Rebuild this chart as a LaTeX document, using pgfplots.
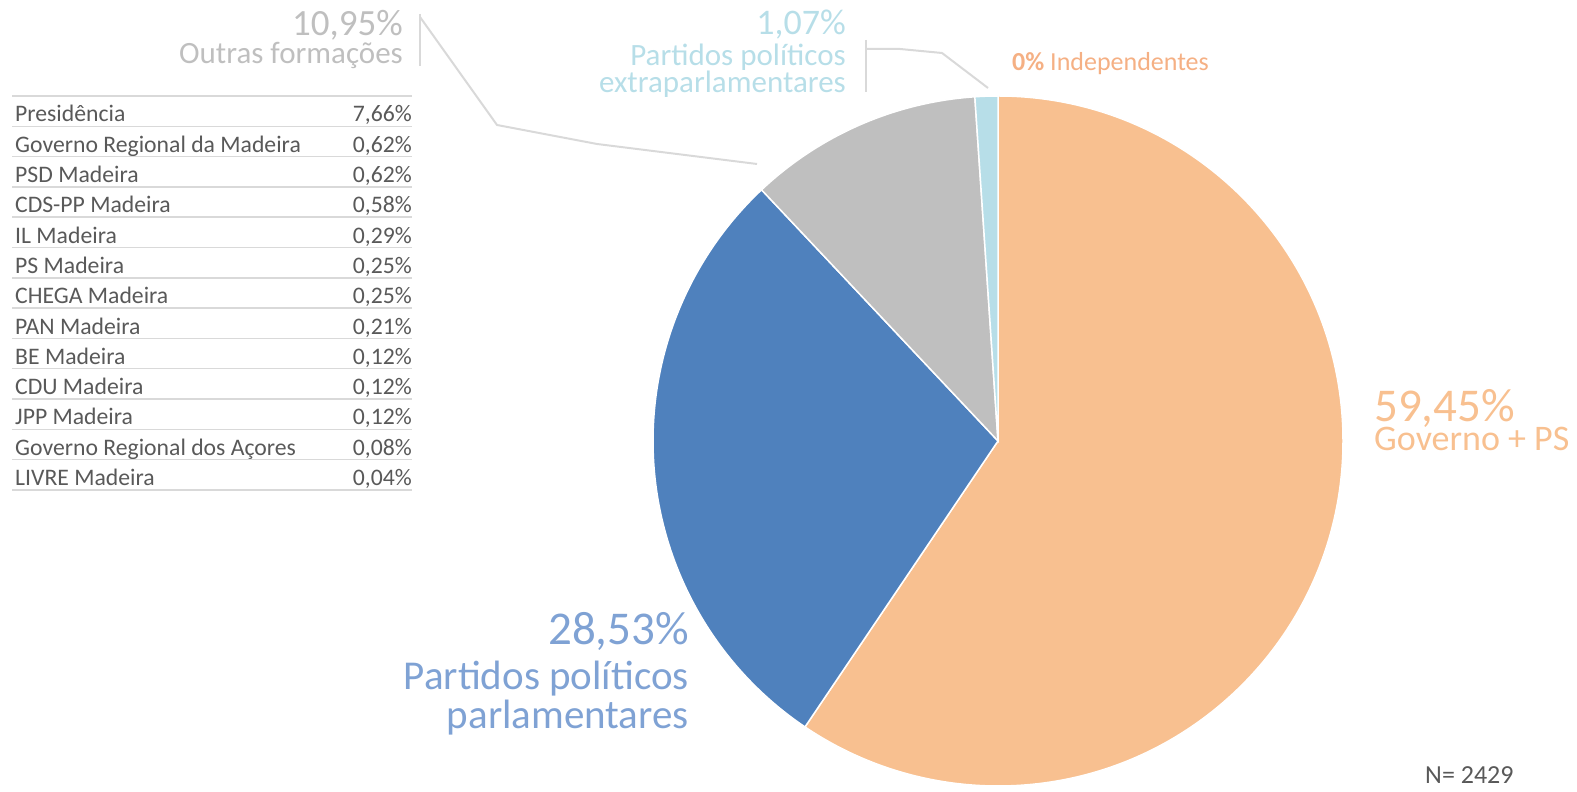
\documentclass[border=0pt]{standalone}
\usepackage{pgfplots}
\usepackage{pgfplotstable}
\pgfplotsset{compat=1.18}
\usepackage{fontspec}
\setmainfont{Carlito}
\definecolor{cOrange}{HTML}{F8C090}
\definecolor{cBlue}{HTML}{4F81BD}
\definecolor{cGray}{HTML}{BFBFBF}
\definecolor{cLBlue}{HTML}{B7DEE8}
\definecolor{tBlue}{HTML}{7FA2D4}
\definecolor{tOrange}{HTML}{F5B084}
\definecolor{tGray}{HTML}{595959}
\definecolor{lGray}{HTML}{D9D9D9}
\newcommand\fs[1]{\fontsize{#1bp}{#1bp}\selectfont}

\pgfplotstableread{
label value
Governo 59.45
Parlamentares 28.53
Outras 10.95
Extra 1.07
Indep 0
}\pietable

\pgfplotstableread[col sep=semicolon]{
name;share
Presidência;7,66\%
Governo Regional da Madeira;0,62\%
PSD Madeira;0,62\%
CDS-PP Madeira;0,58\%
IL Madeira;0,29\%
PS Madeira;0,25\%
CHEGA Madeira;0,25\%
PAN Madeira;0,21\%
BE Madeira;0,12\%
CDU Madeira;0,12\%
JPP Madeira;0,12\%
Governo Regional dos Açores;0,08\%
LIVRE Madeira;0,04\%
}\othertable

\pgfplotstablegetelem{0}{value}\of\pietable\let\vA\pgfplotsretval
\pgfplotstablegetelem{1}{value}\of\pietable\let\vB\pgfplotsretval
\pgfplotstablegetelem{2}{value}\of\pietable\let\vC\pgfplotsretval
\pgfplotstablegetelem{3}{value}\of\pietable\let\vD\pgfplotsretval
\pgfmathsetmacro\aA{90}
\pgfmathsetmacro\aB{\aA-3.6*\vA}
\pgfmathsetmacro\aC{\aB-3.6*\vB}
\pgfmathsetmacro\aD{\aC-3.6*\vC}
\pgfmathsetmacro\aE{\aD-3.6*\vD}

\begin{document}
\begin{tikzpicture}
\begin{axis}[width=1577bp,height=792bp,scale only axis,
  xmin=0,xmax=1577,ymin=0,ymax=792,hide axis,clip=false]
\addplot[draw=none] coordinates {(0,0) (1577,792)};
\coordinate (BL) at (axis cs:0,0);
\coordinate (TR) at (axis cs:1577,792);
% pie slices
\filldraw[fill=cOrange,draw=white,line width=1.5bp] (axis cs:998,351) -- ++(\aA:345bp) arc[start angle=\aA,end angle=\aB,radius=345bp] -- cycle;
\filldraw[fill=cBlue,draw=white,line width=1.5bp] (axis cs:998,351) -- ++(\aB:345bp) arc[start angle=\aB,end angle=\aC,radius=345bp] -- cycle;
\filldraw[fill=cGray,draw=white,line width=1.5bp] (axis cs:998,351) -- ++(\aC:345bp) arc[start angle=\aC,end angle=\aD,radius=345bp] -- cycle;
\filldraw[fill=cLBlue,draw=white,line width=1.5bp] (axis cs:998,351) -- ++(\aD:345bp) arc[start angle=\aD,end angle=\aE,radius=345bp] -- cycle;
% leader lines
\draw[lGray,line width=2bp] (axis cs:420,778) -- (axis cs:420,726);
\draw[lGray,line width=2bp] (axis cs:420,775) -- (axis cs:497,667) -- (axis cs:597,648) -- (axis cs:757,628);
\draw[lGray,line width=2bp] (axis cs:866,752) -- (axis cs:866,700);
\draw[lGray,line width=2bp] (axis cs:866,743) -- (axis cs:900,743) -- (axis cs:942,739) -- (axis cs:988,704);
% labels
\node[anchor=base east,text=cGray,font=\fs{37},inner sep=0pt] at (axis cs:403,756) {10,95\%};
\node[anchor=base east,text=cGray,font=\fs{31},inner sep=0pt] at (axis cs:403,728) {Outras formações};
\node[anchor=base east,text=cLBlue,font=\fs{36},inner sep=0pt] at (axis cs:846,757) {1,07\%};
\node[anchor=base east,text=cLBlue,font=\fs{31},inner sep=0pt] at (axis cs:846,726) {Partidos políticos};
\node[anchor=base east,text=cLBlue,font=\fs{31},inner sep=0pt] at (axis cs:846,699) {extraparlamentares};
\node[anchor=base west,text=tOrange,font=\fs{26},inner sep=0pt] at (axis cs:1012,721) {\textbf{0\%} Independentes};
\node[anchor=base west,text=cOrange,font=\fs{47},inner sep=0pt] at (axis cs:1374,370) {59,45\%};
\node[anchor=base west,text=cOrange,font=\fs{36},inner sep=0pt] at (axis cs:1374,341) {Governo + PS};
\node[anchor=base east,text=tBlue,font=\fs{47},inner sep=0pt] at (axis cs:689,147) {28,53\%};
\node[anchor=base east,text=tBlue,font=\fs{41},inner sep=0pt] at (axis cs:689,102) {Partidos políticos};
\node[anchor=base east,text=tBlue,font=\fs{41},inner sep=0pt] at (axis cs:689,63) {parlamentares};
\node[anchor=base west,text=tGray,font=\fs{26},inner sep=0pt] at (axis cs:1425,8) {N= 2429};
% table of other formations
\draw[lGray,line width=1.5bp] (axis cs:12,696) -- (axis cs:412,696);
\pgfplotsinvokeforeach{0,...,12}{
  \pgfplotstablegetelem{#1}{name}\of\othertable
  \edef\rowname{\pgfplotsretval}
  \pgfplotstablegetelem{#1}{share}\of\othertable
  \edef\rowshare{\pgfplotsretval}
  \edef\doit{\noexpand\node[anchor=base west,text=tGray,font=\noexpand\fs{23.7},inner sep=0pt] at (axis cs:15,{670-30.3*#1}) {\rowname};
    \noexpand\node[anchor=base east,text=tGray,font=\noexpand\fs{23.7},inner sep=0pt] at (axis cs:412,{670-30.3*#1}) {\rowshare};}
  \doit
  \draw[lGray,line width=1.5bp] (axis cs:12,{696-30.3*(#1+1)}) -- (axis cs:412,{696-30.3*(#1+1)});
}
\end{axis}
\pgfresetboundingbox
\path[use as bounding box] (BL) rectangle (TR);
\end{tikzpicture}
\end{document}
